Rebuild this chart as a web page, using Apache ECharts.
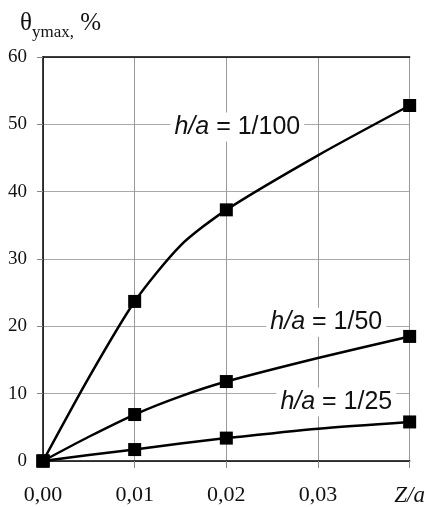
<!DOCTYPE html>
<html>
<head>
<meta charset="utf-8">
<script src="https://cdn.jsdelivr.net/npm/echarts@6/dist/echarts.min.js"></script>
<style>html,body{margin:0;padding:0;background:#fff}#c{width:428px;height:507px}</style>
</head>
<body>
<div id="c"></div>
<script>
// Marker points (Z/a)
var zMarkers = [0, 0.01, 0.02, 0.04];
var ha100 = [0, 23.7, 37.3, 52.8];
var ha50 = [0, 6.9, 11.8, 18.5];
var ha25 = [0, 1.7, 3.4, 5.8];
// Curve points (Z/a, value)
var curveZ = [0, 0.005, 0.01, 0.015, 0.02, 0.03, 0.04];
var curve100 = [0, 12.4, 23.7, 32.0, 37.3, 45.4, 52.8];
var curve50 = [0, 3.6, 6.9, 9.6, 11.8, 15.3, 18.5];
var curve25 = [0, 0.9, 1.7, 2.6, 3.4, 4.8, 5.8];
var xTickLabels = ['0,00', '0,01', '0,02', '0,03', 'Z/a'];
var seriesLabels = ['1/100', '1/50', '1/25'];
var labelPos = [[0.0212, 49.6], [0.0309, 20.6], [0.0320, 8.75]];

function pairs(xs, ys) { return xs.map(function (x, i) { return [x, ys[i]]; }); }

var chart = echarts.init(document.getElementById('c'), null, {renderer: 'canvas'});
var curves = [curve100, curve50, curve25];
var marks = [ha100, ha50, ha25];
var series = [];
curves.forEach(function (c, k) {
  series.push({
    type: 'line', data: pairs(curveZ, c), smooth: 0.25, showSymbol: false, symbol: 'none',
    lineStyle: {color: '#000', width: 2.5}, silent: true, z: 3,
    markPoint: {
      symbol: 'rect', symbolSize: 0,
      data: [{coord: labelPos[k], value: seriesLabels[k]}],
      label: {
        show: true, position: 'inside',
        formatter: '{i|h/a} = ' + seriesLabels[k],
        backgroundColor: '#fff', padding: [2, 4],
        color: '#111', fontFamily: 'Liberation Sans', fontSize: 25,
        rich: {i: {fontStyle: 'italic', fontFamily: 'Liberation Sans', fontSize: 25, color: '#111'}}
      }
    }
  });
  series.push({
    type: 'scatter', data: pairs(zMarkers, marks[k]), symbol: 'rect', symbolSize: 13,
    itemStyle: {color: '#000', opacity: 1}, z: 4
  });
});

chart.setOption({
  animation: false,
  backgroundColor: '#fff',
  grid: {left: 43, right: 15, top: 57, bottom: 45},
  xAxis: [{
    type: 'value', min: 0, max: 0.04, interval: 0.01,
    axisLine: {show: true, onZero: false, lineStyle: {color: '#000', width: 1.5}},
    axisTick: {show: true, length: 7, lineStyle: {color: '#888'}},
    splitLine: {show: true, lineStyle: {color: '#999', width: 1}},
    axisLabel: {
      margin: 23, fontFamily: 'Liberation Serif', fontSize: 22, color: '#111',
      formatter: function (v) {
        var i = Math.round(v / 0.01);
        return i === 4 ? '{i|' + xTickLabels[i] + '}' : xTickLabels[i];
      },
      rich: {i: {fontStyle: 'italic', fontFamily: 'Liberation Serif', fontSize: 23, color: '#111'}}
    }
  }, {
    type: 'value', position: 'top', min: 0, max: 0.04, interval: 0.01,
    axisLine: {show: true, onZero: false, lineStyle: {color: '#000', width: 1.5}},
    axisTick: {show: false}, axisLabel: {show: false}, splitLine: {show: false}
  }],
  yAxis: {
    type: 'value', min: 0, max: 60, interval: 10,
    name: '{t|θ}{s|ymax,}{t| %}', nameLocation: 'end', nameGap: 16,
    nameTextStyle: {
      align: 'left', padding: [0, 0, 0, -23],
      rich: {
        t: {fontFamily: 'Liberation Serif', fontSize: 25, color: '#111'},
        s: {fontFamily: 'Liberation Serif', fontSize: 17, color: '#111', padding: [18, 0, 0, 0]}
      }
    },
    axisLine: {show: true, onZero: false, lineStyle: {color: '#000', width: 1.5}},
    axisTick: {show: true, length: 6, lineStyle: {color: '#888'}},
    splitLine: {show: true, lineStyle: {color: '#aaa', width: 1}},
    axisLabel: {margin: 16, fontFamily: 'Liberation Serif', fontSize: 19, color: '#111'}
  },
  series: series
});
</script>
</body>
</html>
